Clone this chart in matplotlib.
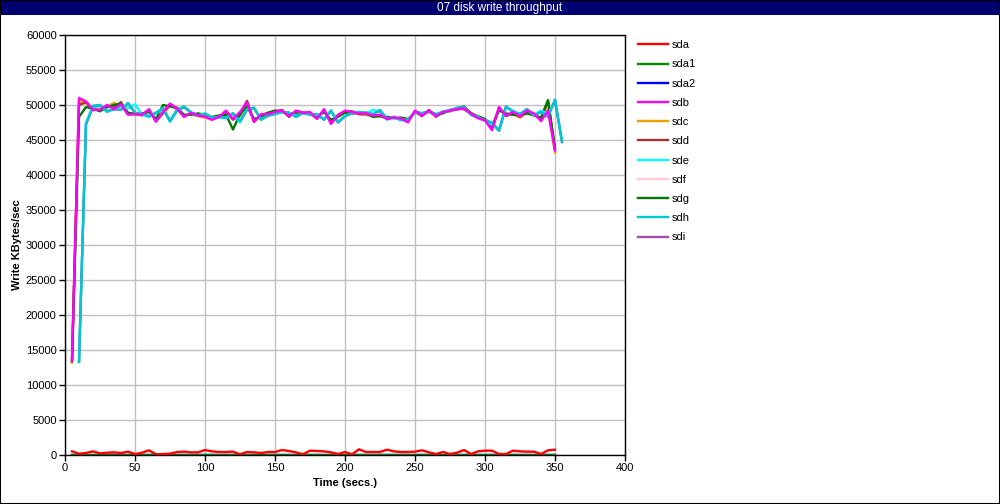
import matplotlib
matplotlib.use('Agg')
import matplotlib.pyplot as plt
from matplotlib.patches import Rectangle

plt.rcParams['font.family'] = ['Liberation Sans', 'DejaVu Sans']

# sample times (secs.)
times_a = list(range(5, 355, 5))    # sda .. sdg
times_b = list(range(10, 360, 5))   # sde, sdh, sdi

sda = [520, 190, 290, 520, 240, 330, 380, 290, 480, 140,
       330, 670, 100, 140, 190, 430, 480, 380, 380, 710,
       520, 430, 430, 480, 100, 430, 380, 290, 430, 430,
       710, 570, 380, 100, 620, 570, 520, 380, 140, 430,
       100, 810, 430, 430, 430, 760, 520, 430, 430, 480,
       670, 380, 140, 430, 140, 330, 710, 140, 520, 620,
       620, 140, 140, 620, 520, 480, 480, 140, 670, 760]
sda1 = [0] * 70
sda2 = [0] * 70
sdb = [13500, 51000, 50500, 49300, 49300, 50000, 49400, 50100, 48600, 48700,
       48600, 49400, 47600, 49000, 50200, 49500, 48300, 48900, 48500, 48300,
       47900, 48300, 49200, 48000, 49000, 50400, 47600, 48700, 48700, 49000,
       49200, 48400, 49200, 48900, 49000, 48000, 49400, 47300, 48500, 49200,
       49000, 48800, 48800, 48500, 48600, 48000, 48200, 48100, 47500, 49200,
       48500, 49200, 48400, 49000, 49200, 49400, 49500, 48800, 48100, 47800,
       46400, 49700, 48500, 49000, 48400, 49200, 48800, 47700, 49200, 43500]
sdc = [13200, 50600, 50300, 49200, 49500, 49800, 50300, 49800, 48800, 48600,
       48700, 49200, 47800, 48800, 49900, 49600, 48500, 48700, 48400, 48200,
       48000, 48400, 48900, 48000, 48600, 50100, 47800, 48500, 48900, 48800,
       49100, 48500, 49000, 48800, 48700, 48200, 49200, 47600, 48400, 49000,
       48900, 48700, 48600, 48400, 48500, 48100, 48300, 47900, 47800, 49000,
       48600, 49000, 48500, 48900, 49300, 49300, 49600, 48900, 48300, 47900,
       46700, 49500, 48600, 48700, 48200, 49000, 48600, 47900, 49400, 43200]
sdd = [13600, 50000, 50400, 49400, 49200, 49900, 49600, 50400, 48700, 48800,
       48500, 49300, 47700, 48900, 50000, 49400, 48400, 48800, 48600, 48400,
       47900, 48300, 49000, 47900, 48500, 50600, 47600, 48600, 48800, 49100,
       49300, 48300, 49100, 48900, 48800, 48100, 49300, 47400, 48600, 49100,
       49100, 48700, 48700, 48600, 48400, 48100, 48200, 48000, 47700, 49100,
       48400, 49300, 48300, 49100, 49100, 49500, 49400, 48700, 48200, 47900,
       46600, 49600, 48400, 48900, 48300, 49100, 48700, 48000, 50600, 43700]
sdf = [13300, 50300, 50100, 49300, 49400, 49700, 50100, 49900, 48800, 48700,
       48600, 49300, 47900, 48700, 49900, 49500, 48400, 48800, 48500, 48300,
       48000, 48400, 49000, 48100, 48500, 50200, 47700, 48600, 48800, 48900,
       49100, 48400, 49100, 48800, 48800, 48100, 49200, 47500, 48500, 49100,
       48900, 48700, 48700, 48500, 48500, 48000, 48300, 48000, 47700, 49100,
       48500, 49100, 48400, 48900, 49200, 49300, 49500, 48800, 48200, 47900,
       46500, 49600, 48500, 48800, 48300, 49100, 48700, 47800, 49800, 43600]
sdg = [13400, 48300, 49700, 49500, 49100, 49700, 50000, 50200, 48900, 48700,
       48800, 49000, 48000, 50000, 49800, 49600, 48600, 48600, 48800, 48600,
       48300, 48500, 48600, 46500, 48700, 49800, 48000, 48300, 48900, 49200,
       49000, 48600, 48700, 48800, 48900, 48300, 49000, 47900, 48300, 48900,
       48800, 48900, 48800, 48300, 48400, 48300, 48100, 48200, 48000, 48900,
       48700, 49100, 48700, 48800, 49300, 49400, 49800, 48800, 48400, 48000,
       47000, 49200, 48800, 48600, 48500, 48800, 48500, 48200, 50700, 43800]
sde = [13300, 47500, 49600, 49900, 49200, 49300, 49900, 49500, 50100, 48600,
       48300, 48800, 49400, 47600, 49100, 49700, 49000, 48500, 48700, 48300,
       48200, 48100, 48700, 47500, 49300, 49500, 48000, 48400, 48800, 48900,
       48900, 48500, 48800, 48700, 48600, 48000, 49100, 47600, 48400, 48900,
       49000, 48800, 49300, 49000, 47900, 48200, 47800, 47900, 48900, 48900,
       49000, 48700, 49100, 49300, 49500, 49600, 48700, 48300, 47700, 47200,
       46500, 49700, 49200, 48700, 49300, 48600, 49200, 48700, 50600, 44900]
sdh = [13300, 47300, 49900, 50000, 49000, 49500, 49300, 50300, 48900, 48700,
       48400, 48900, 49600, 47700, 49300, 49800, 48900, 48500, 48800, 48200,
       48300, 48200, 48800, 47700, 49400, 49600, 47900, 48500, 48700, 49000,
       48900, 48300, 48900, 48600, 48700, 47900, 49200, 47500, 48400, 48800,
       49000, 48900, 48700, 49300, 48000, 48300, 47900, 47800, 49000, 48800,
       49100, 48600, 49000, 49200, 49600, 49700, 48600, 48200, 47800, 47500,
       46300, 49800, 49000, 48700, 49400, 48500, 49000, 48300, 50800, 44700]
sdi = [13300, 47200, 49800, 50000, 49100, 49400, 49300, 50200, 48900, 48700,
       48400, 48900, 49500, 47700, 49300, 49700, 48900, 48500, 48700, 48200,
       48300, 48200, 48800, 47700, 49300, 49600, 47900, 48500, 48700, 49000,
       48900, 48300, 48900, 48600, 48700, 47900, 49200, 47500, 48400, 48800,
       49000, 48900, 48700, 49200, 48000, 48300, 47900, 47800, 49000, 48800,
       49100, 48600, 49000, 49200, 49600, 49700, 48600, 48200, 47800, 47500,
       46300, 49800, 49000, 48700, 49400, 48500, 49000, 48300, 50700, 44700]

series = [
    ('sda', times_a, sda, '#ff0000', 3),
    ('sda1', times_a, sda1, '#008c00', 2),
    ('sda2', times_a, sda2, '#0000ff', 1),
    ('sdb', times_a, sdb, '#ff00ff', 12),
    ('sdc', times_a, sdc, '#f0a000', 5),
    ('sdd', times_a, sdd, '#a83232', 6),
    ('sde', times_b, sde, '#00ffff', 8),
    ('sdf', times_a, sdf, '#ffc8d2', 4),
    ('sdg', times_a, sdg, '#007800', 7),
    ('sdh', times_b, sdh, '#00c8d2', 10),
    ('sdi', times_b, sdi, '#a050aa', 9),
]

fig = plt.figure(figsize=(10, 5.04), dpi=100)
ax = fig.add_axes([0.065, 0.0972, 0.56, 0.8334])

for name, t, vals, color, z in series:
    ax.plot(t, vals, color=color, linewidth=1.7, label=name, zorder=z)

ax.set_xlim(0, 400)
ax.set_ylim(0, 60000)
ax.set_xticks(range(0, 401, 50))
ax.set_yticks(range(0, 60001, 5000))
ax.grid(True, color='#c0c0c0', linewidth=1)
ax.set_axisbelow(True)
ax.tick_params(labelsize=8, direction='out', length=4, width=1, pad=2)
for sp in ax.spines.values():
    sp.set_linewidth(1)
    sp.set_color('black')

ax.set_xlabel('Time (secs.)', fontsize=8, fontweight='bold', labelpad=3.5)
ax.set_ylabel('Write KBytes/sec', fontsize=8, fontweight='bold', labelpad=3)

# legend outside on the right
handles, labels = ax.get_legend_handles_labels()
fig.legend(handles, labels, loc='upper left', bbox_to_anchor=(0.628, 0.94),
           frameon=False, fontsize=8, handlelength=2.7, labelspacing=0.83,
           handletextpad=0.35)

# title bar
fig.patches.append(Rectangle((0, 1 - 15 / 504), 1, 15 / 504, transform=fig.transFigure,
                             facecolor='#000070', edgecolor='none', zorder=0))
fig.text(0.5, 1 - 7.5 / 504, '07 disk write throughput', color='white',
         fontsize=8.5, ha='center', va='center')
fig.patches.append(Rectangle((0, 0), 1, 1, transform=fig.transFigure,
                             facecolor='none', edgecolor='black', linewidth=1.5))

fig.savefig('out.png', dpi=100)
